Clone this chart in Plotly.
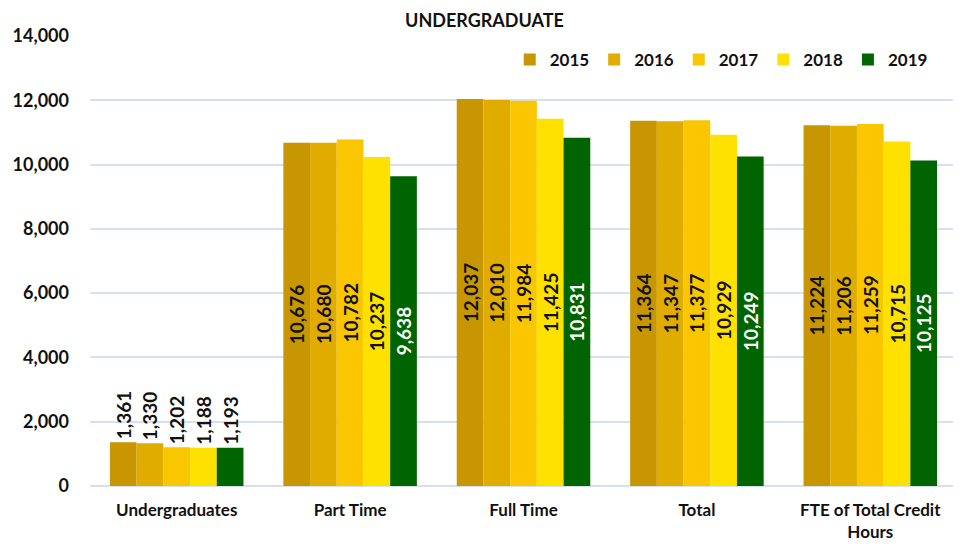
import plotly.graph_objects as go

categories = ["Undergraduates", "Part Time", "Full Time", "Total", "FTE of Total Credit<br>Hours"]
years = ["2015", "2016", "2017", "2018", "2019"]
values = {
    "2015": [1361, 10676, 12037, 11364, 11224],
    "2016": [1330, 10680, 12010, 11347, 11206],
    "2017": [1202, 10782, 11984, 11377, 11259],
    "2018": [1188, 10237, 11425, 10929, 10715],
    "2019": [1193, 9638, 10831, 10249, 10125],
}
colors = ["#C89600", "#E0AC00", "#F9C600", "#FFE100", "#006400"]
text_colors = ["#111111", "#111111", "#111111", "#111111", "#FFFFFF"]

fig = go.Figure()
for y, c, tc in zip(years, colors, text_colors):
    vals = values[y]
    fig.add_trace(go.Bar(
        name=f"<b>{y}</b>", x=categories, y=vals, marker_color=c,
        marker_line_width=0,
        text=[f"{v:,}" for v in vals],
        texttemplate="<b>%{text}</b>",
        textposition=["outside"] + ["inside"] * 4,
        insidetextanchor="middle",
        textangle=-90,
        constraintext="none",
        insidetextfont=dict(family="Lato", size=19, color=tc),
        outsidetextfont=dict(family="Lato", size=19, color="#111111"),
        cliponaxis=False,
    ))

fig.update_layout(
    barmode="group", bargap=0.23, bargroupgap=0,
    width=953, height=538,
    margin=dict(l=82, r=4, t=28, b=60),
    paper_bgcolor="white", plot_bgcolor="white",
    font=dict(family="Lato", color="#111111"),
    title=dict(text="<b>UNDERGRADUATE</b>", x=0.5, xanchor="center", y=0.977, yanchor="middle",
               font=dict(family="Lato", size=18, color="#111111")),
    legend=dict(orientation="h", x=0.972, xanchor="right", y=0.947, yanchor="middle",
                font=dict(family="Lato", size=17, color="#111111"),
                bgcolor="rgba(0,0,0,0)", itemwidth=30, traceorder="normal"),
)
fig.update_yaxes(range=[0, 14000], dtick=2000, tickformat=",", showgrid=True,
                 gridcolor="#D6E0F0", gridwidth=1.5, zeroline=True, zerolinecolor="#D6E0F0",
                 zerolinewidth=1.5, tickfont=dict(family="Lato", size=18, color="#111111"),
                 ticks="", ticklabelstandoff=20,
                 tickprefix="<b>", ticksuffix="</b>")
fig.update_xaxes(tickfont=dict(family="Lato", size=17, color="#111111"), showline=False,
                 ticklabelstandoff=12,
                 tickprefix="<b>", ticksuffix="</b>")

fig.write_html("out.html")
